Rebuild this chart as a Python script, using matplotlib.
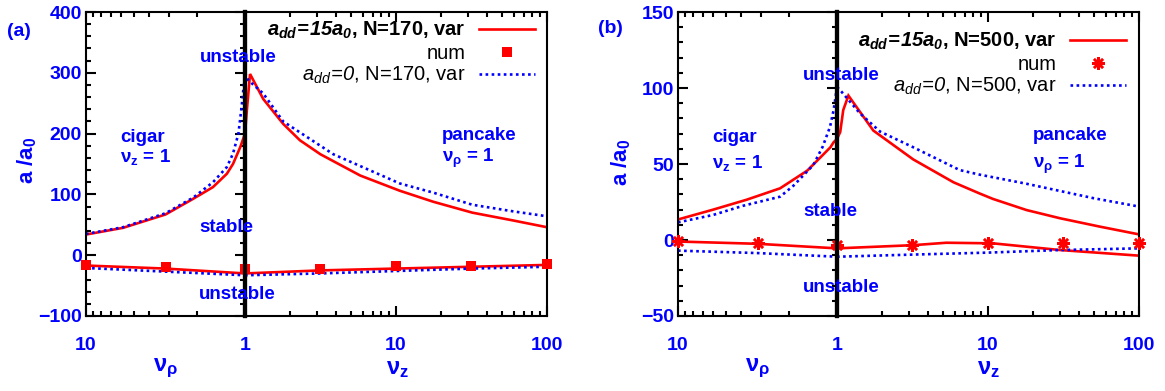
import matplotlib
matplotlib.use('Agg')
import numpy as np
import matplotlib.pyplot as plt
from matplotlib.ticker import FixedLocator, MultipleLocator, NullFormatter, FuncFormatter, LogLocator

plt.rcParams.update({
    'font.family': ['Liberation Sans', 'DejaVu Sans'],
    'font.weight': 'bold',
    'mathtext.fontset': 'custom',
    'mathtext.rm': 'Liberation Sans:bold',
    'mathtext.it': 'Liberation Sans:italic:normal',
    'mathtext.bf': 'Liberation Sans:bold',
    'mathtext.bfit': 'Liberation Sans:italic:bold',
    'mathtext.sf': 'Liberation Sans:italic:normal',
})

# ---------------- data: panel (a), N=170 ----------------
a_nu_rho_red_up = [10, 5.85, 3.16, 2.11, 1.59, 1.30, 1.19, 1.07, 1.0]
a_red_up_L = [34, 45, 67, 93, 112, 134, 150, 178, 200]
a_nu_z_red_up = [1.0, 1.03, 1.08, 1.32, 1.79, 2.31, 3.16, 5.8, 10.6, 17.6, 32, 60, 100]
a_red_up_R = [200, 240, 298, 257, 216, 189, 166, 131, 106, 88, 70, 57, 46]

a_nu_rho_blue_up = [10, 5.85, 3.16, 2.11, 1.59, 1.30, 1.19, 1.10, 1.05, 1.0]
a_blue_up_L = [35, 46, 69, 95, 120, 145, 167, 200, 244, 300]
a_nu_z_blue_up = [1.0, 1.05, 1.32, 1.79, 3.85, 10.6, 17.6, 32, 60, 100]
a_blue_up_R = [300, 288, 266, 220, 166, 118, 103, 83, 72, 64]

a_nu_rho_low = [10, 3.16, 1.0]
a_red_low_L = [-17, -22, -30]
a_blue_low_L = [-21, -27, -33]
a_nu_z_low = [1.0, 3.16, 10, 31.6, 100]
a_red_low_R = [-30, -25, -22, -19, -16]
a_blue_low_R = [-33, -30, -26, -22, -19]

a_num_nu_rho = [10, 3.16, 1.0]
a_num_L = [-16, -20, -23]
a_num_nu_z = [3.16, 10, 31.6, 100]
a_num_R = [-22, -18, -17, -15]

# ---------------- data: panel (b), N=500 ----------------
b_nu_rho_red_up = [10, 6, 3.7, 2.28, 1.54, 1.27, 1.10, 1.05, 1.0]
b_red_up_L = [13.5, 20, 26.5, 34, 45.6, 54.4, 61, 64.3, 66.5]
b_nu_z_red_up = [1.0, 1.05, 1.10, 1.19, 1.74, 3.2, 5.9, 8.8, 10.8, 18, 30, 55, 100]
b_red_up_R = [66.5, 71, 85.5, 95, 72, 53, 38, 30.6, 27, 19.7, 14.3, 8.8, 3.7]

b_nu_rho_blue_up = [10, 6, 3.9, 2.28, 1.88, 1.41, 1.23, 1.106, 1.05, 1.0]
b_blue_up_L = [11.6, 16.5, 22.5, 28.5, 35.7, 49.3, 61.4, 74.5, 85.5, 100.7]
b_nu_z_blue_up = [1.0, 1.07, 1.42, 1.93, 3.2, 6.5, 8.8, 18, 50, 100]
b_blue_up_R = [100.7, 97.6, 83.3, 71.3, 61, 46, 43, 37, 27.5, 22]

b_nu_rho_low = [10, 3.16, 1.0]
b_red_low_L = [-1, -2.5, -5.5]
b_blue_low_L = [-7, -8.6, -11]
b_nu_z_red_low = [1.0, 3.2, 5.3, 10.8, 30, 100]
b_red_low_R = [-5.5, -3.4, -1.8, -2.2, -6.6, -10.3]
b_nu_z_blue_low = [1.0, 3.16, 10, 30, 100]
b_blue_low_R = [-11, -9.6, -8.3, -6.6, -5.5]

b_num_nu_rho = [10, 3.16, 1.0]
b_num_L = [-0.4, -2.2, -3.2]
b_num_nu_z = [3.16, 10, 31.6, 100]
b_num_R = [-3.6, -1.8, -1.8, -2.2]

# ---------------- layout ----------------
W, H = 1165, 391
fig = plt.figure(figsize=(W / 100, H / 100), dpi=100)
BLUE = '#0000ff'
RED = '#ff0000'


def fx(px):
    return px / W


def fy(py):
    return 1 - py / H


def setup(x0, xm, x1, ytop, ybot, ylim, ymaj, ymin):
    axL = fig.add_axes([fx(x0), fy(ybot), fx(xm) - fx(x0), (ybot - ytop) / H])
    axR = fig.add_axes([fx(xm), fy(ybot), fx(x1) - fx(xm), (ybot - ytop) / H], sharey=axL)
    for ax in (axL, axR):
        ax.patch.set_visible(False)
        ax.set_xscale('log')
        ax.xaxis.set_minor_locator(LogLocator(base=10, subs=np.arange(2, 10), numticks=20))
        ax.xaxis.set_minor_formatter(NullFormatter())
        ax.tick_params(which='both', direction='in', top=True, bottom=True, width=1.5,
                       labelcolor=BLUE, labelsize=14)
        ax.tick_params(which='major', length=7)
        ax.tick_params(which='minor', length=3.5)
        ax.tick_params(axis='x', pad=15)
        ax.tick_params(axis='y', pad=3)
        for s in ax.spines.values():
            s.set_linewidth(1.5)
    axL.set_xlim(10, 1)
    axL.xaxis.set_major_locator(FixedLocator([10, 1]))
    axL.xaxis.set_major_formatter(FuncFormatter(lambda v, p: f'{v:g}'))
    axL.tick_params(axis='y', which='both', left=True, right=True)
    axL.spines['right'].set_linewidth(3)
    axR.set_xlim(1, 100)
    axR.xaxis.set_major_locator(FixedLocator([1, 10, 100]))
    axR.xaxis.set_major_formatter(FuncFormatter(lambda v, p: '' if abs(v - 1) < 1e-9 else f'{v:g}'))
    axR.tick_params(axis='y', which='both', left=False, right=False, labelleft=False)
    axR.spines['left'].set_linewidth(3)
    axL.set_ylim(*ylim)
    axL.yaxis.set_major_locator(MultipleLocator(ymaj))
    axL.yaxis.set_minor_locator(MultipleLocator(ymin))
    return axL, axR


RED_KW = dict(color=RED, lw=1.9, solid_joinstyle='miter')
BLUE_KW = dict(color=BLUE, lw=1.9, linestyle=(0, (1, 1.3)))

LEG_KW = dict(loc='upper right', frameon=False, markerfirst=False, numpoints=1,
              handlelength=2.8, handletextpad=0.65, labelspacing=0.12,
              borderaxespad=0, borderpad=0, fontsize=14.5)

# ---------------- panel (a) ----------------
aL, aR = setup(86, 245, 547, 12, 316, (-100, 400), 100, 20)
aL.plot(a_nu_rho_red_up, a_red_up_L, **RED_KW)
aL.plot(a_nu_rho_low, a_red_low_L, **RED_KW)
aL.plot(a_nu_rho_blue_up, a_blue_up_L, **BLUE_KW)
aL.plot(a_nu_rho_low, a_blue_low_L, **BLUE_KW)
aL.plot(a_num_nu_rho, a_num_L, 's', color=RED, ms=7, mew=0, clip_on=False, zorder=3)
la1, = aR.plot(a_nu_z_red_up, a_red_up_R, **RED_KW)
aR.plot(a_nu_z_low, a_red_low_R, **RED_KW)
la3, = aR.plot(a_nu_z_blue_up, a_blue_up_R, **BLUE_KW)
aR.plot(a_nu_z_low, a_blue_low_R, **BLUE_KW)
la2, = aR.plot(a_num_nu_z, a_num_R, 's', color=RED, ms=7, mew=0, clip_on=False, zorder=3)

leg = aR.legend([la1, la2, la3],
                [r'$\mathbfit{a_{dd}\!=\!15a_0}$, N=170, var', 'num',
                 r'$\mathsf{a_{dd}\!=\!0}$, N=170, var'],
                bbox_to_anchor=((535 - 245) / 302, (316 - 20) / 304), **LEG_KW)
for i, t in enumerate(leg.get_texts()):
    t.set_fontweight('bold' if i == 0 else 'normal')

# ---------------- panel (b) ----------------
bL, bR = setup(678, 837, 1139, 12, 316, (-50, 150), 50, 10)
AST = (8, 2, 0)
bL.plot(b_nu_rho_red_up, b_red_up_L, **RED_KW)
bL.plot(b_nu_rho_low, b_red_low_L, **RED_KW)
bL.plot(b_nu_rho_blue_up, b_blue_up_L, **BLUE_KW)
bL.plot(b_nu_rho_low, b_blue_low_L, **BLUE_KW)
bL.plot(b_num_nu_rho, b_num_L, marker=AST, ls='none', color=RED, ms=9, mew=1.8, clip_on=False, zorder=3)
lb1, = bR.plot(b_nu_z_red_up, b_red_up_R, **RED_KW)
bR.plot(b_nu_z_red_low, b_red_low_R, **RED_KW)
lb3, = bR.plot(b_nu_z_blue_up, b_blue_up_R, **BLUE_KW)
bR.plot(b_nu_z_blue_low, b_blue_low_R, **BLUE_KW)
lb2, = bR.plot(b_num_nu_z, b_num_R, marker=AST, ls='none', color=RED, ms=9, mew=1.8, clip_on=False, zorder=3)

legb = bR.legend([lb1, lb2, lb3],
                 [r'$\mathbfit{a_{dd}\!=\!15a_0}$, N=500, var', 'num',
                  r'$\mathsf{a_{dd}\!=\!0}$, N=500, var'],
                 bbox_to_anchor=((1126 - 837) / 302, (316 - 31) / 304), **LEG_KW)
for i, t in enumerate(legb.get_texts()):
    t.set_fontweight('bold' if i == 0 else 'normal')

# ---------------- text ----------------
TK = dict(color=BLUE, fontsize=13.5, fontweight='bold')


def txt(px, py, s, ha='left', va='baseline', **kw):
    d = dict(TK)
    d.update(kw)
    fig.text(fx(px), fy(py), s, ha=ha, va=va, **d)


# panel a
txt(19, 31.5, '(a)', ha='center', va='center', fontsize=14)
txt(27, 160, r'a /a$_\mathbf{0}$', ha='center', va='center', rotation=90, fontsize=16)
txt(200, 62, 'unstable')
txt(120, 141.5, 'cigar')
txt(120, 161.5, r'$\mathbf{\nu_z}$ = 1')
txt(199, 231.5, 'stable')
txt(199, 299, 'unstable')
txt(442, 140, 'pancake')
txt(442, 161.5, r'$\mathbf{\nu_\rho}$ = 1')
txt(165, 368, r'$\mathbf{\nu_\rho}$', ha='center', va='center', fontsize=17)
txt(397, 368, r'$\mathbf{\nu_z}$', ha='center', va='center', fontsize=17)

# panel b
txt(610, 28.5, '(b)', ha='center', va='center', fontsize=14)
txt(621, 162, r'a /a$_\mathbf{0}$', ha='center', va='center', rotation=90, fontsize=16)
txt(803, 80, 'unstable')
txt(712, 141.5, 'cigar')
txt(712, 168, r'$\mathbf{\nu_z}$ = 1')
txt(803, 216.5, 'stable')
txt(803, 292.5, 'unstable')
txt(1033, 140, 'pancake')
txt(1033, 168, r'$\mathbf{\nu_\rho}$ = 1')
txt(757, 368, r'$\mathbf{\nu_\rho}$', ha='center', va='center', fontsize=17)
txt(988, 368, r'$\mathbf{\nu_z}$', ha='center', va='center', fontsize=17)

fig.savefig('out.png', dpi=100)
